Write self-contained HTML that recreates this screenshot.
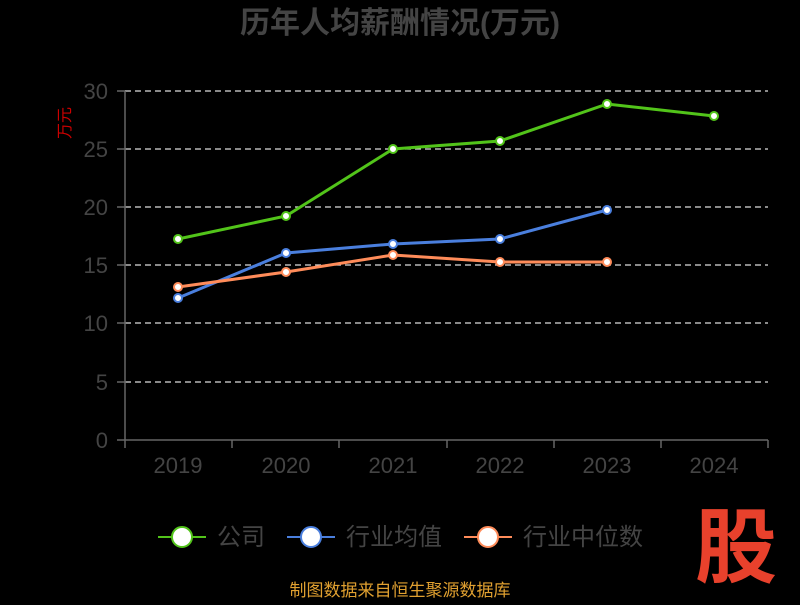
<!DOCTYPE html>
<html><head><meta charset="utf-8"><style>
body{margin:0;background:#000;width:800px;height:600px;overflow:hidden;font-family:"Liberation Sans","Noto Sans CJK SC",sans-serif;}
</style></head><body>
<svg width="800" height="600" xmlns="http://www.w3.org/2000/svg" font-family="Liberation Sans, Noto Sans CJK SC, sans-serif">
<rect width="800" height="600" fill="#000"/>
<text x="400" y="33" text-anchor="middle" font-size="30" font-weight="bold" fill="#444">历年人均薪酬情况(万元)</text>
<text transform="translate(70,123) rotate(-90)" text-anchor="middle" font-size="16" fill="#c00">万元</text>
<g stroke="#ddd" stroke-dasharray="6,4" stroke-width="1.2">
<line x1="125" x2="768" y1="91" y2="91"/><line x1="125" x2="768" y1="149" y2="149"/>
<line x1="125" x2="768" y1="207" y2="207"/><line x1="125" x2="768" y1="265" y2="265"/>
<line x1="125" x2="768" y1="323" y2="323"/><line x1="125" x2="768" y1="382" y2="382"/>
</g>
<g stroke="#666" stroke-width="1.5">
<line x1="125" x2="125" y1="91" y2="440"/><line x1="125" x2="768" y1="440" y2="440"/>
<line x1="117" x2="125" y1="91" y2="91"/><line x1="117" x2="125" y1="149" y2="149"/><line x1="117" x2="125" y1="207" y2="207"/><line x1="117" x2="125" y1="265" y2="265"/><line x1="117" x2="125" y1="323" y2="323"/><line x1="117" x2="125" y1="382" y2="382"/><line x1="117" x2="125" y1="440" y2="440"/>
<line x1="125" x2="125" y1="440" y2="448"/><line x1="232" x2="232" y1="440" y2="448"/><line x1="339" x2="339" y1="440" y2="448"/><line x1="447" x2="447" y1="440" y2="448"/><line x1="554" x2="554" y1="440" y2="448"/><line x1="661" x2="661" y1="440" y2="448"/><line x1="768" x2="768" y1="440" y2="448"/>
</g>
<g font-size="22" fill="#444" text-anchor="end">
<text x="108" y="99">30</text><text x="108" y="157">25</text><text x="108" y="215">20</text><text x="108" y="273">15</text><text x="108" y="331">10</text><text x="108" y="390">5</text><text x="108" y="448">0</text>
</g>
<g font-size="22" fill="#444" text-anchor="middle">
<text x="178" y="473">2019</text><text x="286" y="473">2020</text><text x="393" y="473">2021</text><text x="500" y="473">2022</text><text x="607" y="473">2023</text><text x="714" y="473">2024</text>
</g>
<g fill="#fff" stroke-width="2">
<polyline fill="none" stroke="#52c41a" stroke-width="3" points="178,239 286,216 393,149 500,141 607,104 714,116"/>
<polyline fill="none" stroke="#4a7fde" stroke-width="3" points="178,298 286,253 393,244 500,239 607,210"/>
<polyline fill="none" stroke="#ff8c5a" stroke-width="3" points="178,287 286,272 393,255 500,262 607,262"/>
<g stroke="#52c41a"><circle cx="178" cy="239" r="4"/><circle cx="286" cy="216" r="4"/><circle cx="393" cy="149" r="4"/><circle cx="500" cy="141" r="4"/><circle cx="607" cy="104" r="4"/><circle cx="714" cy="116" r="4"/></g>
<g stroke="#4a7fde"><circle cx="178" cy="298" r="4"/><circle cx="286" cy="253" r="4"/><circle cx="393" cy="244" r="4"/><circle cx="500" cy="239" r="4"/><circle cx="607" cy="210" r="4"/></g>
<g stroke="#ff8c5a"><circle cx="178" cy="287" r="4"/><circle cx="286" cy="272" r="4"/><circle cx="393" cy="255" r="4"/><circle cx="500" cy="262" r="4"/><circle cx="607" cy="262" r="4"/></g>
</g>
<g font-size="24" fill="#444">
<line x1="158" x2="206" y1="537" y2="537" stroke="#52c41a" stroke-width="2"/><circle cx="182" cy="537" r="10" fill="#fff" stroke="#52c41a" stroke-width="2"/><text x="217" y="545">公司</text>
<line x1="287" x2="335" y1="537" y2="537" stroke="#4a7fde" stroke-width="2"/><circle cx="311" cy="537" r="10" fill="#fff" stroke="#4a7fde" stroke-width="2"/><text x="346" y="545">行业均值</text>
<line x1="464" x2="512" y1="537" y2="537" stroke="#ff8c5a" stroke-width="2"/><circle cx="488" cy="537" r="10" fill="#fff" stroke="#ff8c5a" stroke-width="2"/><text x="523" y="545">行业中位数</text>
</g>
<text x="736" y="576" text-anchor="middle" font-size="82" font-weight="bold" fill="#e8412c">股</text>
<text x="400" y="596" text-anchor="middle" font-size="17" fill="#e0a030">制图数据来自恒生聚源数据库</text>
</svg>
</body></html>
